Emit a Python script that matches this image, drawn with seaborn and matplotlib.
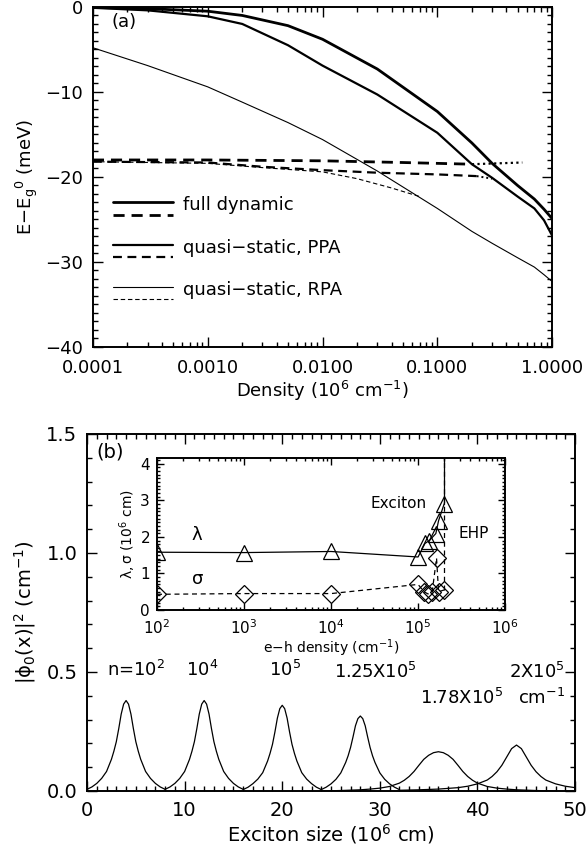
import matplotlib
matplotlib.use("Agg")
import matplotlib.pyplot as plt
from matplotlib.ticker import MultipleLocator, LogLocator, NullFormatter, FuncFormatter
from matplotlib.lines import Line2D
import seaborn as sns

# ---- panel (a): gap shift vs density ----
dens = [1e-4, 3e-4, 1e-3, 2e-3, 5e-3, 1e-2, 3e-2, 0.1, 0.2, 0.3, 0.5, 0.7, 0.85, 1.0]
full_dyn = [-0.05, -0.2, -0.5, -1.0, -2.2, -3.8, -7.3, -12.3, -16.0, -18.4, -21.0, -22.6, -23.8, -24.9]
qs_ppa = [-0.1, -0.4, -1.1, -2.0, -4.5, -6.9, -10.3, -14.8, -18.5, -20.1, -22.3, -23.7, -25.1, -26.9]
qs_rpa = [-4.8, -6.9, -9.4, -11.2, -13.6, -15.6, -19.3, -23.7, -26.4, -27.8, -29.5, -30.6, -31.5, -32.3]

full_dyn_x_dens = [1e-4, 1e-3, 1e-2, 5e-2, 0.2]
full_dyn_x = [-18.0, -18.0, -18.1, -18.3, -18.5]
full_dyn_x_dot = [0.2, 0.55]
full_dyn_x_dot_y = [-18.5, -18.3]

ppa_x_dens = [1e-4, 1e-3, 3e-3, 1e-2, 3e-2, 0.1, 0.22]
ppa_x = [-18.2, -18.3, -18.8, -19.2, -19.5, -19.7, -19.9]
ppa_x_dot = [0.22, 0.3]
ppa_x_dot_y = [-19.9, -20.2]

rpa_x_dens = [1e-4, 1e-3, 3e-3, 1e-2, 2e-2, 4e-2, 7e-2]
rpa_x = [-18.2, -18.4, -18.9, -19.4, -20.2, -21.3, -22.3]

legend_names = ["full dynamic", "quasi\u2212static, PPA", "quasi\u2212static, RPA"]

# ---- panel (b): exciton wavefunctions ----
narrow_x = [[0, 0.5, 1, 1.5, 2, 2.5, 2.75, 3, 3.25, 3.5, 3.75, 4, 4.25, 4.5, 4.75, 5, 5.25, 5.5, 6, 6.5, 7, 7.5, 8],
            [8, 8.5, 9, 9.5, 10, 10.5, 10.75, 11, 11.25, 11.5, 11.75, 12, 12.25, 12.5, 12.75, 13, 13.25, 13.5, 14, 14.5, 15, 15.5, 16],
            [16, 16.5, 17, 17.5, 18, 18.5, 18.75, 19, 19.25, 19.5, 19.75, 20, 20.25, 20.5, 20.75, 21, 21.25, 21.5, 22, 22.5, 23, 23.5, 24],
            [24, 24.5, 25, 25.5, 26, 26.5, 26.75, 27, 27.25, 27.5, 27.75, 28, 28.25, 28.5, 28.75, 29, 29.25, 29.5, 30, 30.5, 31, 31.5, 32]]
psi_1e2 = [.007, .017, .032, .053, .082, .133, .167, .207, .262, .323, .365, .380, .365, .323, .262, .207, .167, .133, .082, .053, .032, .017, .007]
psi_1e4 = [.007, .017, .032, .053, .082, .133, .167, .207, .262, .323, .365, .380, .365, .323, .262, .207, .167, .133, .082, .053, .032, .017, .007]
psi_1e5 = [.006, .016, .031, .050, .077, .126, .158, .196, .248, .306, .346, .360, .346, .306, .248, .196, .158, .126, .077, .050, .031, .016, .006]
psi_125e5 = [.006, .016, .030, .049, .076, .120, .148, .183, .227, .274, .304, .315, .304, .274, .227, .183, .148, .120, .076, .049, .030, .016, .006]

x_178e5 = [24, 26, 28, 29, 30, 31, 32, 32.5, 33, 33.5, 34, 34.5, 35, 35.5, 36,
           36.5, 37, 37.5, 38, 38.5, 39, 39.5, 40, 41, 42, 43, 44, 46, 48]
psi_178e5 = [0.0, .002, .005, .008, .012, .019, .033, .045, .061, .082, .108, .133, .150, .161, .165,
             .161, .150, .133, .108, .082, .061, .045, .033, .019, .012, .008, .005, .002, 0.0]
x_2e5 = [32, 34, 36, 38, 39, 40, 41, 41.5, 42, 42.5, 43, 43.5, 44, 44.5, 45, 45.5, 46, 46.5, 47, 48, 49, 50]
psi_2e5 = [.003, .005, .008, .014, .020, .030, .046, .061, .081, .108, .143, .178, .193,
           .178, .143, .108, .081, .061, .046, .030, .020, .014]

peak_labels = ["n=10$^2$", "10$^4$", "10$^5$", "1.25X10$^5$", "1.78X10$^5$", "2X10$^5$", "cm$^{-1}$"]

# ---- inset: lambda, sigma vs e-h density ----
lam_n = [1e2, 1e3, 1e4, 1e5, 1.2e5, 1.35e5, 1.6e5, 1.72e5, 2e5]
lam = [1.58, 1.57, 1.6, 1.45, 1.82, 1.9, 2.09, 2.44, 2.91]
sig_n = [1e2, 1e3, 1e4, 1e5, 1.17e5, 1.3e5, 1.45e5, 1.63e5, 1.72e5, 2e5]
sig = [0.43, 0.45, 0.45, 0.7, 0.5, 0.44, 0.48, 1.42, 0.5, 0.55]
ehp_n = [2e5, 2e5]
lam_edge = [2.91, 4.3]
sig_edge = [0.55, 4.3]

sns.set_style("ticks")
plt.rcParams['font.family'] = ['DejaVu Sans']
plt.rcParams['mathtext.default'] = 'regular'
plt.rcParams['text.color'] = 'black'
plt.rcParams['axes.labelcolor'] = 'black'
plt.rcParams['xtick.color'] = 'black'
plt.rcParams['ytick.color'] = 'black'
plt.rcParams['axes.edgecolor'] = 'black'

fig = plt.figure(figsize=(5.88, 8.58), dpi=100)
ax1 = fig.add_axes([0.158, 0.5956, 0.781, 0.3963])
ax2 = fig.add_axes([0.148, 0.0781, 0.830, 0.4161])
ax3 = fig.add_axes([0.267, 0.289, 0.592, 0.177])


def style(ax, size=13, major=7, minor=3.5, pad=7):
    ax.tick_params(which='both', direction='in', top=True, right=True, width=1, labelsize=size)
    ax.tick_params(which='major', length=major, pad=pad)
    ax.tick_params(which='minor', length=minor)
    for s in ax.spines.values():
        s.set_linewidth(1.4)


def line(ax, x, y, lw=1.0, ls='-'):
    sns.lineplot(x=x, y=y, ax=ax, color='k', lw=lw, linestyle=ls, estimator=None, sort=False)


# panel (a)
ax1.set_xscale('log')
line(ax1, dens, full_dyn, 2.0)
line(ax1, dens, qs_ppa, 1.6)
line(ax1, dens, qs_rpa, 0.8)
line(ax1, full_dyn_x_dens, full_dyn_x, 2.0, (0, (4, 2.5)))
line(ax1, full_dyn_x_dot, full_dyn_x_dot_y, 1.6, (0, (1, 1.5)))
line(ax1, ppa_x_dens, ppa_x, 1.6, (0, (4, 2.5)))
line(ax1, ppa_x_dot, ppa_x_dot_y, 1.4, (0, (1, 1.5)))
line(ax1, rpa_x_dens, rpa_x, 0.8, (0, (4, 2.5)))
ax1.set_xlim(1e-4, 1.0)
ax1.set_ylim(-40, 0)
ax1.xaxis.set_major_locator(LogLocator(base=10, numticks=10))
ax1.xaxis.set_minor_locator(LogLocator(base=10, subs=range(2, 10), numticks=20))
ax1.xaxis.set_minor_formatter(NullFormatter())
ax1.xaxis.set_major_formatter(FuncFormatter(lambda v, p: f"{v:.4f}"))
ax1.yaxis.set_major_locator(MultipleLocator(10))
ax1.yaxis.set_minor_locator(MultipleLocator(1))
style(ax1)
ax1.tick_params(axis='x', which='major', pad=9)
ax1.set_xlabel("Density (10$^6$ cm$^{-1}$)", fontsize=13, labelpad=1)
ax1.set_ylabel("E$-$E$_g$$^0$ (meV)", fontsize=13, labelpad=4)
ax1.text(0.04, 0.955, "(a)", transform=ax1.transAxes, fontsize=13, va='center')

leg_rows = [(0.4265, 0.388, 2.0), (0.30, 0.265, 1.6), (0.176, 0.141, 0.8)]
for (ys, yd, lw), name in zip(leg_rows, legend_names):
    ax1.add_line(Line2D([0.044, 0.174], [ys, ys], transform=ax1.transAxes, color='k', lw=lw))
    ax1.add_line(Line2D([0.044, 0.174], [yd, yd], transform=ax1.transAxes, color='k', lw=lw,
                        linestyle=(0, (4, 2.5))))
    ax1.text(0.196, ys - 0.008, name, transform=ax1.transAxes, fontsize=13, va='center')

# panel (b)
for xs, ys in zip(narrow_x, [psi_1e2, psi_1e4, psi_1e5, psi_125e5]):
    line(ax2, xs, ys, 0.9)
line(ax2, x_178e5, psi_178e5, 0.9)
line(ax2, x_2e5, psi_2e5, 0.9)
ax2.set_xlim(0, 50)
ax2.set_ylim(0, 1.5)
ax2.xaxis.set_major_locator(MultipleLocator(10))
ax2.xaxis.set_minor_locator(MultipleLocator(1))
ax2.yaxis.set_major_locator(MultipleLocator(0.5))
ax2.yaxis.set_minor_locator(MultipleLocator(0.1))
ax2.yaxis.set_major_formatter(FuncFormatter(lambda v, p: f"{v:.1f}"))
style(ax2, size=14)
ax2.set_xlabel("Exciton size (10$^6$ cm)", fontsize=14, labelpad=2)
ax2.set_ylabel("$|\\phi_0(x)|^2$ (cm$^{-1}$)", fontsize=14, labelpad=6)
ax2.text(0.02, 0.95, "(b)", transform=ax2.transAxes, fontsize=14, va='center')
label_pos = [(5.0, 0.51), (11.8, 0.51), (20.3, 0.51), (29.5, 0.50), (38.4, 0.39), (46.1, 0.50), (46.6, 0.39)]
for txt, (lx, ly) in zip(peak_labels, label_pos):
    ax2.text(lx, ly, txt, fontsize=13, ha='center', va='center')

# inset
ax3.set_xscale('log')
sns.lineplot(x=lam_n, y=lam, ax=ax3, color='k', lw=0.9, marker='^', markersize=12,
             markerfacecolor='none', markeredgecolor='k', markeredgewidth=0.9,
             estimator=None, sort=False)
sns.lineplot(x=sig_n, y=sig, ax=ax3, color='k', lw=0.9, linestyle=(0, (4, 3)), marker='D',
             markersize=9, markerfacecolor='none', markeredgecolor='k', markeredgewidth=0.9,
             estimator=None, sort=False)
line(ax3, ehp_n, lam_edge, 0.9)
line(ax3, ehp_n, sig_edge, 0.9, (0, (4, 3)))
ax3.set_xlim(1e2, 1e6)
ax3.set_ylim(0, 4.15)
ax3.xaxis.set_major_locator(LogLocator(base=10, numticks=10))
ax3.xaxis.set_minor_locator(LogLocator(base=10, subs=range(2, 10), numticks=20))
ax3.xaxis.set_minor_formatter(NullFormatter())
ax3.yaxis.set_major_locator(MultipleLocator(1))
ax3.yaxis.set_minor_locator(MultipleLocator(0.1))
style(ax3, size=11, major=5, minor=2.5, pad=5)
ax3.tick_params(axis='x', which='major', pad=6)
ax3.set_xlabel("e$-$h density (cm$^{-1}$)", fontsize=10, labelpad=0)
ax3.set_ylabel("$\\lambda,\\sigma$ (10$^6$ cm)", fontsize=10, labelpad=2)
ax3.text(5.9e4, 2.92, "Exciton", fontsize=11, ha='center', va='center')
ax3.text(4.3e5, 2.08, "EHP", fontsize=11, ha='center', va='center')
ax3.text(2.9e2, 2.05, "$\\lambda$", fontsize=13, ha='center', va='center')
ax3.text(2.9e2, 0.85, "$\\sigma$", fontsize=13, ha='center', va='center')

fig.savefig("out.png", dpi=100)
